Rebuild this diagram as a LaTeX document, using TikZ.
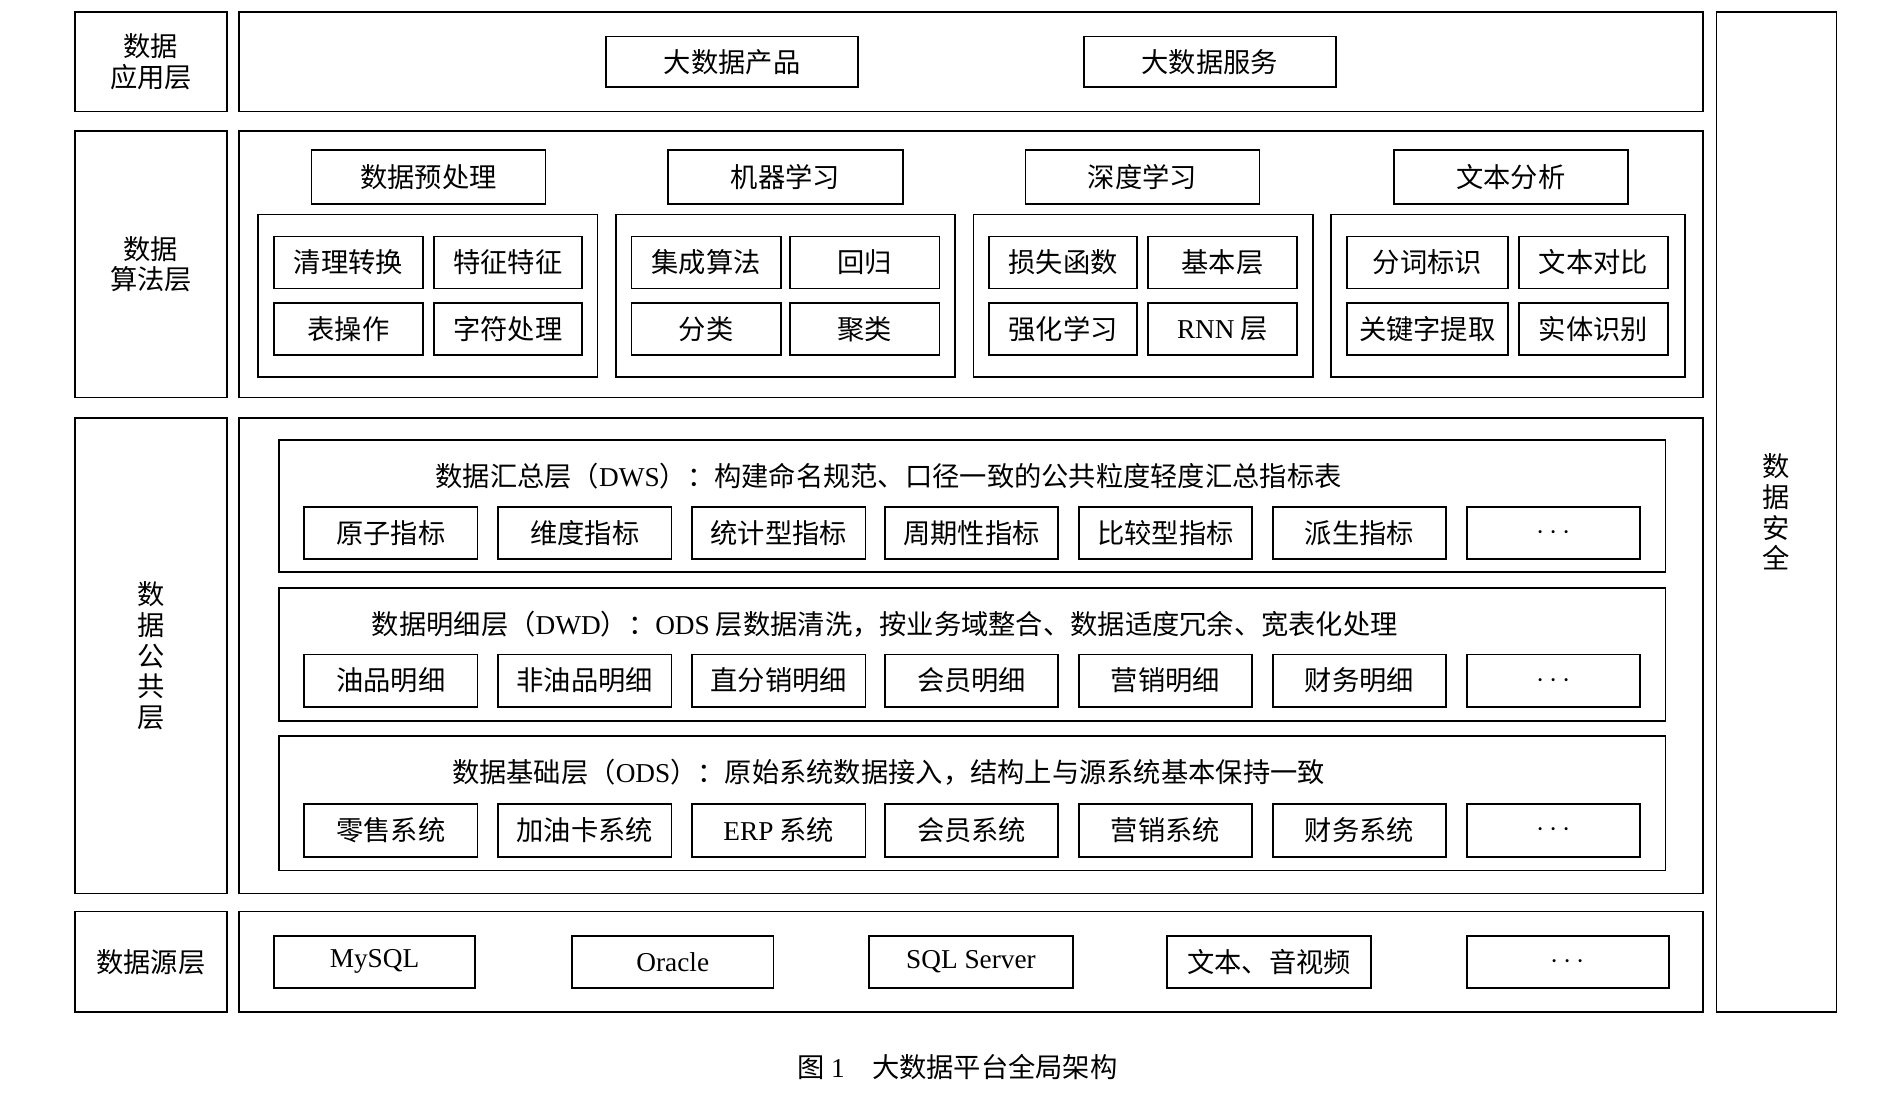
\documentclass[tikz,border=0pt]{standalone}
\usepackage{fontspec}
\setmainfont{Noto Sans CJK SC}
\newfontfamily\latin{Liberation Serif}
\newcommand{\en}[1]{{\latin #1}}
\usetikzlibrary{positioning}
% box from corner (x1,y1) to corner (x2,y2), measured in pixels of the layout
\newcommand{\bx}[6]{%
  \pgfmathsetmacro{\bw}{(#4-#2)*0.025}\pgfmathsetmacro{\bh}{(#5-#3)*0.025}%
  \node[box,minimum width=\bw cm,minimum height=\bh cm] (#1) at ({(#2+#4)/2},{(#3+#5)/2}) {#6};}
\begin{document}
\begin{tikzpicture}[x=0.025cm,y=-0.025cm,
  every node/.style={font=\fontsize{16}{18}\selectfont},
  box/.style={draw,line width=1pt,inner sep=0pt,align=center}]
\useasboundingbox (0,0) rectangle (1560,902);
% layer names
\bx{app}{62}{10}{187}{92}{数据\\应用层}
\bx{alg}{62}{108}{187}{328}{数据\\算法层}
\bx{pub}{62}{345}{187}{737}{数\\据\\公\\共\\层}
\bx{src}{62}{752}{187}{835}{数据源层}
\bx{sec}{1416}{10}{1515}{835}{数\\据\\安\\全}
% layer frames
\bx{appf}{197}{10}{1405}{92}{}
\bx{algf}{197}{108}{1405}{328}{}
\bx{pubf}{197}{345}{1405}{737}{}
\bx{srcf}{197}{752}{1405}{835}{}
% application layer
\bx{prod}{500}{30}{708}{72}{大数据产品}
\bx{serv}{894}{30}{1102}{72}{大数据服务}
% algorithm layer
\bx{pre}{257}{124}{450}{168}{数据预处理}
\bx{ml}{551}{124}{745}{168}{机器学习}
\bx{dl}{846}{124}{1039}{168}{深度学习}
\bx{txt}{1150}{124}{1343}{168}{文本分析}
\bx{preg}{213}{177}{493}{311}{}
\bx{mlg}{508}{177}{788}{311}{}
\bx{dlg}{803}{177}{1083}{311}{}
\bx{txtg}{1098}{177}{1390}{311}{}
\bx{pre1}{226}{195}{349}{238}{清理转换}
\bx{pre2}{358}{195}{480}{238}{特征特征}
\bx{pre3}{226}{250}{349}{293}{表操作}
\bx{pre4}{358}{250}{480}{293}{字符处理}
\bx{ml1}{521}{195}{644}{238}{集成算法}
\bx{ml2}{652}{195}{775}{238}{回归}
\bx{ml3}{521}{250}{644}{293}{分类}
\bx{ml4}{652}{250}{775}{293}{聚类}
\bx{dl1}{816}{195}{938}{238}{损失函数}
\bx{dl2}{947}{195}{1070}{238}{基本层}
\bx{dl3}{816}{250}{938}{293}{强化学习}
\bx{dl4}{947}{250}{1070}{293}{\en{RNN} 层}
\bx{txt1}{1111}{195}{1244}{238}{分词标识}
\bx{txt2}{1253}{195}{1376}{238}{文本对比}
\bx{txt3}{1111}{250}{1244}{293}{关键字提取}
\bx{txt4}{1253}{250}{1376}{293}{实体识别}
% common layer
\bx{dws}{230}{363}{1374}{472}{}
\bx{dwd}{230}{485}{1374}{595}{}
\bx{ods}{230}{607}{1374}{718}{}
\node (dwst) at (733,393) {数据汇总层（\en{DWS}）：构建命名规范、口径一致的公共粒度轻度汇总指标表};
\node (dwdt) at (730,515) {数据明细层（\en{DWD}）：\en{ODS} 层数据清洗，按业务域整合、数据适度冗余、宽表化处理};
\node (odst) at (733,637) {数据基础层（\en{ODS}）：原始系统数据接入，结构上与源系统基本保持一致};
\foreach \i/\xa/\xb in {1/251/394,2/411/554,3/571/714,4/730/873,5/890/1033,6/1050/1193,7/1210/1353}{
  \pgfmathsetmacro{\xc}{(\xa+\xb)/2}
  \node[box,minimum width=3.575cm,minimum height=1.075cm] (dws\i) at (\xc,439.5) {};
  \node[box,minimum width=3.575cm,minimum height=1.075cm] (dwd\i) at (\xc,561.5) {};
  \node[box,minimum width=3.575cm,minimum height=1.1cm] (ods\i) at (\xc,685) {};
}
\foreach \i/\t in {1/原子指标,2/维度指标,3/统计型指标,4/周期性指标,5/比较型指标,6/派生指标,7/\en{$\cdots$}}
  \node at (dws\i) {\t};
\foreach \i/\t in {1/油品明细,2/非油品明细,3/直分销明细,4/会员明细,5/营销明细,6/财务明细,7/\en{$\cdots$}}
  \node at (dwd\i) {\t};
\foreach \i/\t in {1/零售系统,2/加油卡系统,3/\en{ERP} 系统,4/会员系统,5/营销系统,6/财务系统,7/\en{$\cdots$}}
  \node at (ods\i) {\t};
% source layer
\bx{mysql}{226}{772}{392}{815}{\en{MySQL}}
\bx{oracle}{472}{772}{638}{815}{\en{Oracle}}
\bx{sqls}{717}{772}{885}{815}{\en{SQL Server}}
\bx{media}{963}{772}{1131}{815}{文本、音视频}
\bx{more}{1210}{772}{1377}{815}{\en{$\cdots$}}
% caption
\node (cap) at (790,880) {图 \en{1}\quad 大数据平台全局架构};
\end{tikzpicture}
\end{document}
